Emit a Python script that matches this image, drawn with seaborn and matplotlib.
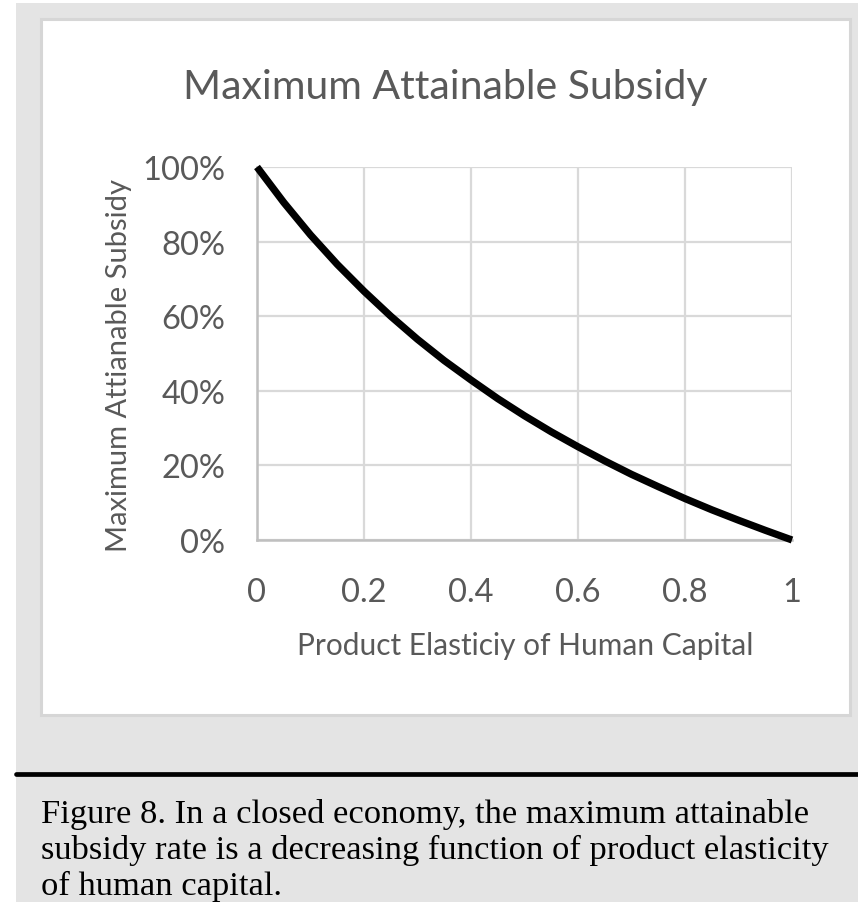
import matplotlib
matplotlib.use("Agg")
import matplotlib.pyplot as plt
from matplotlib.patches import Rectangle
from matplotlib.lines import Line2D
from matplotlib.ticker import FuncFormatter, FixedLocator
import seaborn as sns
import pandas as pd

# Product elasticity of human capital vs. maximum attainable subsidy rate
elasticity = [0.00, 0.05, 0.10, 0.15, 0.20, 0.25, 0.30, 0.35, 0.40, 0.45, 0.50,
              0.55, 0.60, 0.65, 0.70, 0.75, 0.80, 0.85, 0.90, 0.95, 1.00]
subsidy = [1.000, 0.905, 0.818, 0.739, 0.667, 0.600, 0.538, 0.481, 0.429, 0.379, 0.333,
           0.290, 0.250, 0.212, 0.176, 0.143, 0.111, 0.081, 0.053, 0.026, 0.000]

x_ticks = [0, 0.2, 0.4, 0.6, 0.8, 1.0]
x_tick_labels = ["0", "0.2", "0.4", "0.6", "0.8", "1"]
y_ticks = [0, 0.2, 0.4, 0.6, 0.8, 1.0]

chart_title = "Maximum Attainable Subsidy"
x_title = "Product Elasticiy of Human Capital"
y_title = "Maximum Attianable Subsidy"
caption_lines = [
    "Figure 8. In a closed economy, the maximum attainable",
    "subsidy rate is a decreasing function of product elasticity",
    "of human capital.",
]

sns.set_theme(style="whitegrid")
plt.rcParams["font.family"] = ["Lato", "DejaVu Sans"]

W, H = 858, 903
fig = plt.figure(figsize=(W / 100, H / 100), dpi=100)
fig.patch.set_facecolor("#e4e4e4")

def fx(px):
    return px / W

def fy(py):
    return 1 - py / H

# white margins at the left and top of the page
fig.patches.append(Rectangle((0, 0), fx(16), 1, transform=fig.transFigure,
                             facecolor="white", edgecolor="none", zorder=0))
fig.patches.append(Rectangle((0, fy(4)), 1, 1 - fy(4), transform=fig.transFigure,
                             facecolor="white", edgecolor="none", zorder=0))

# chart area frame
fig.patches.append(Rectangle((fx(41), fy(716)), fx(850) - fx(41), fy(20) - fy(716),
                             transform=fig.transFigure, facecolor="white",
                             edgecolor="#d6d6d6", linewidth=2.2, zorder=1))

ax = fig.add_axes([fx(257), fy(541), fx(792) - fx(257), fy(168) - fy(541)])
ax.set_zorder(2)
ax.set_facecolor("none")

df = pd.DataFrame({"elasticity": elasticity, "subsidy": subsidy})
sns.lineplot(data=df, x="elasticity", y="subsidy", ax=ax, color="black",
             linewidth=5.2, solid_capstyle="butt", clip_on=False, zorder=5)

ax.set_xlim(0, 1)
ax.set_ylim(0, 1)
ax.xaxis.set_major_locator(FixedLocator(x_ticks))
ax.set_xticklabels(x_tick_labels)
ax.yaxis.set_major_locator(FixedLocator(y_ticks))
ax.yaxis.set_major_formatter(FuncFormatter(lambda v, _: f"{v * 100:.0f}%"))

ax.grid(True, color="#d9d9d9", linewidth=1.6)
for side in ["top", "right"]:
    ax.spines[side].set_visible(False)
for side in ["left", "bottom"]:
    ax.spines[side].set_visible(True)
    ax.spines[side].set_color("#bfbfbf")
    ax.spines[side].set_linewidth(1.8)

ax.tick_params(axis="both", length=0, labelsize=23.5, labelcolor="#595959")
ax.tick_params(axis="x", pad=27)
ax.tick_params(axis="y", pad=23)

ax.set_xlabel(x_title, fontsize=21.5, color="#595959")
ax.set_ylabel(y_title, fontsize=21, color="#595959")
ax.xaxis.label.set_va("center")
ax.yaxis.label.set_va("center")
ax.xaxis.set_label_coords((525 - 257) / 535, (541 - 646) / 373)
ax.yaxis.set_label_coords((119 - 257) / 535, (541 - 365) / 373)

fig.text(fx(445), fy(87), chart_title, ha="center", va="center",
         fontsize=29.5, color="#595959")

# rule above the caption
fig.lines.append(Line2D([fx(16), 1], [fy(775), fy(775)], transform=fig.transFigure,
                        color="black", linewidth=3.4))

for i, line in enumerate(caption_lines):
    fig.text(fx(41), fy(823 + 36 * i), line, ha="left", va="baseline",
             fontsize=24.8, color="black", family=["Liberation Serif", "DejaVu Serif"])

fig.savefig("out.png", dpi=100, facecolor=fig.get_facecolor())
